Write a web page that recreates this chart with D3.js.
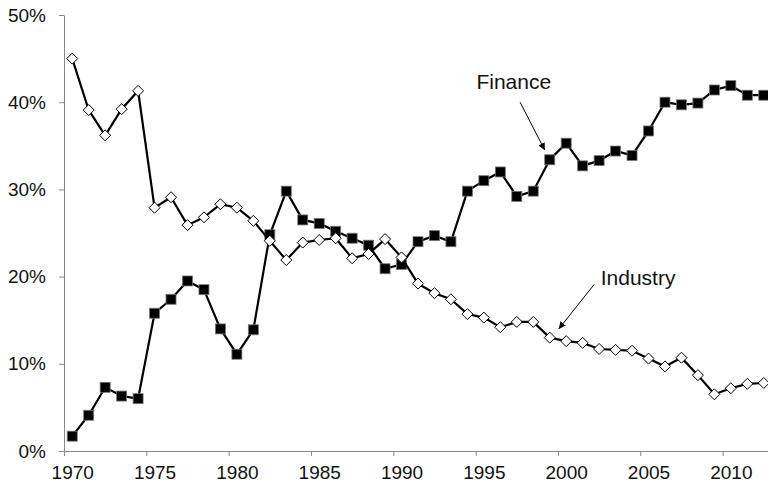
<!DOCTYPE html>
<html>
<head>
<meta charset="utf-8">
<script src="https://cdn.jsdelivr.net/npm/d3@7"></script>
<style>
  body { margin: 0; background: #fff; }
  svg { font-family: "Liberation Sans", Arial, sans-serif; }
</style>
</head>
<body>
<svg id="chart" width="768" height="490"></svg>
<script>
// years on the category axis
let years = d3.range(1970, 2013);

// share of total, in percent
let finance = [1.7, 4.1, 7.3, 6.3, 6.0, 15.8, 17.4, 19.5, 18.5, 14.0,
  11.1, 13.9, 24.8, 29.8, 26.5, 26.1, 25.2, 24.4, 23.6, 20.9,
  21.4, 24.0, 24.7, 24.0, 29.8, 31.0, 32.0, 29.2, 29.8, 33.4,
  35.3, 32.7, 33.3, 34.4, 33.9, 36.7, 40.0, 39.7, 39.9, 41.4,
  41.9, 40.8, 40.8];

let industry = [45.0, 39.1, 36.2, 39.2, 41.3, 27.9, 29.1, 25.9, 26.8, 28.3,
  27.9, 26.4, 24.1, 21.9, 23.9, 24.2, 24.4, 22.1, 22.6, 24.3,
  22.2, 19.2, 18.1, 17.4, 15.7, 15.3, 14.2, 14.8, 14.8, 13.0,
  12.6, 12.4, 11.7, 11.6, 11.5, 10.6, 9.7, 10.7, 8.7, 6.5,
  7.2, 7.7, 7.8];

let yTicks = [0, 10, 20, 30, 40, 50];
let xLabels = [1970, 1975, 1980, 1985, 1990, 1995, 2000, 2005, 2010];

// annotation text and arrow, in data units
let notes = [
  { label: "Finance", tx: 1994.55, ty: 41.5, x1: 1997.2, y1: 40.0, x2: 1998.7, y2: 34.5 },
  { label: "Industry", tx: 2002.1, ty: 19.0, x1: 2001.7, y1: 19.1, x2: 1999.55, y2: 14.0 }
];

let svg = d3.select("#chart");

let xScale = d3.scaleLinear()
  .domain([1969.5, 2012.5])
  .range([64, 772]);

let yScale = d3.scaleLinear()
  .domain([0, 50])
  .range([451, 15]);

// y axis
svg.append("g")
  .attr("transform", "translate(64,0)")
  .call(d3.axisLeft(yScale)
    .tickValues(yTicks)
    .tickFormat(d => d + "%")
    .tickSize(5)
    .tickPadding(13)
    .tickSizeOuter(0));

// x axis: tick marks sit between categories, labels on them
svg.append("g")
  .attr("transform", "translate(0,451)")
  .call(d3.axisBottom(xScale)
    .tickValues(xLabels.map(d => d - 0.5))
    .tickFormat("")
    .tickSize(5)
    .tickSizeOuter(0));

let xText = svg.append("g")
  .attr("transform", "translate(0,451)")
  .call(d3.axisBottom(xScale)
    .tickValues(xLabels)
    .tickFormat(d3.format("d"))
    .tickSize(0)
    .tickPadding(15));
xText.select(".domain").remove();

svg.selectAll(".domain, .tick line")
  .attr("stroke", "#888");
svg.selectAll(".tick text")
  .attr("fill", "#111")
  .style("font-size", "19px");

let line = d3.line()
  .x((d, i) => xScale(years[i]))
  .y(d => yScale(d));

// finance series
svg.append("path")
  .datum(finance)
  .attr("d", line)
  .attr("fill", "none")
  .attr("stroke", "#000")
  .attr("stroke-width", 2.2);

svg.selectAll(".sq")
  .data(finance)
  .join("rect")
  .attr("class", "sq")
  .attr("x", (d, i) => xScale(years[i]) - 5)
  .attr("y", d => yScale(d) - 5)
  .attr("width", 10)
  .attr("height", 10)
  .attr("fill", "#000")
  .attr("stroke", "#777")
  .attr("stroke-width", 0.8);

// industry series
svg.append("path")
  .datum(industry)
  .attr("d", line)
  .attr("fill", "none")
  .attr("stroke", "#000")
  .attr("stroke-width", 2.2);

svg.selectAll(".dia")
  .data(industry)
  .join("path")
  .attr("class", "dia")
  .attr("transform", (d, i) => "translate(" + xScale(years[i]) + "," + yScale(d) + ")")
  .attr("d", "M0,-5.5L5.5,0L0,5.5L-5.5,0Z")
  .attr("fill", "#fff")
  .attr("stroke", "#000")
  .attr("stroke-width", 1);

// arrows
svg.append("defs").append("marker")
  .attr("id", "head")
  .attr("viewBox", "0 0 10 10")
  .attr("refX", 10)
  .attr("refY", 5)
  .attr("markerWidth", 7)
  .attr("markerHeight", 7)
  .attr("markerUnits", "userSpaceOnUse")
  .attr("orient", "auto")
  .append("path")
  .attr("d", "M0,0L10,5L0,10Z")
  .attr("fill", "#000");

svg.selectAll(".arrow")
  .data(notes)
  .join("line")
  .attr("class", "arrow")
  .attr("x1", d => xScale(d.x1))
  .attr("y1", d => yScale(d.y1))
  .attr("x2", d => xScale(d.x2))
  .attr("y2", d => yScale(d.y2))
  .attr("stroke", "#000")
  .attr("stroke-width", 1)
  .attr("marker-end", "url(#head)");

svg.selectAll(".note")
  .data(notes)
  .join("text")
  .attr("class", "note")
  .attr("x", d => xScale(d.tx))
  .attr("y", d => yScale(d.ty))
  .text(d => d.label)
  .style("font-size", "21px")
  .attr("fill", "#111");
</script>
</body>
</html>
